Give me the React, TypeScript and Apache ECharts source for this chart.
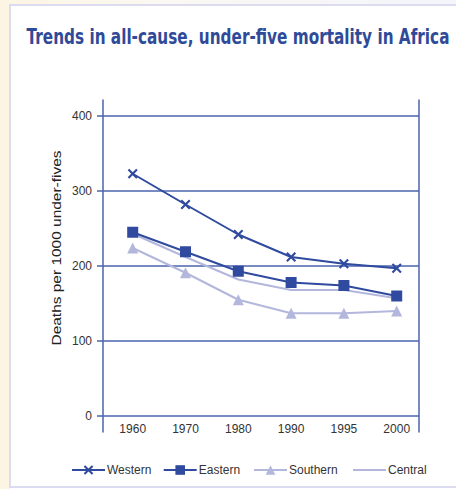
import React, { useEffect, useRef } from "react";
import * as echarts from "echarts";

const titleText = "Trends in all-cause, under-five mortality in Africa";
const yAxisName = "Deaths per 1000 under-fives";
const years = ["1960", "1970", "1980", "1990", "1995", "2000"];
const seriesNames = ["Western", "Eastern", "Southern", "Central"];
const western = [323, 282, 242, 212, 203, 197];
const eastern = [245, 219, 193, 178, 174, 160];
const southern = [224, 191, 155, 137, 137, 140];
const central = [243, 212, 182, 168, 168, 157];
const yMin = 0;
const yMax = 400;
const yInterval = 100;

const DARK = "#2f4a9e";
const LIGHT = "#b3b7dc";
const GRID = "#4a63ad";
const SMALL_FONT = '"Liberation Sans", Arial, sans-serif';

const X_SYMBOL =
  "path://M0,1.5L1.5,0L5,3.5L8.5,0L10,1.5L6.5,5L10,8.5L8.5,10L5,6.5L1.5,10L0,8.5L3.5,5Z";

const legendLefts = [71, 162.7, 253, 353];

function measure(text: string, font: string): number {
  const ctx = document.createElement("canvas").getContext("2d");
  if (!ctx) return text.length * 8;
  ctx.font = font;
  return ctx.measureText(text).width;
}

export default function App() {
  const ref = useRef<HTMLDivElement>(null);

  useEffect(() => {
    if (!ref.current) return;
    const chart = echarts.init(ref.current, null, { renderer: "svg" });

    const titleFont = `bold 22px "DejaVu Sans", sans-serif`;
    const titleScale = 423 / measure(titleText, titleFont);
    const nameFont = `12px "Liberation Sans", Arial, sans-serif`;
    const nameScale = 195 / measure(yAxisName, nameFont);

    const labelStyle = {
      color: "#333333",
      fontFamily: SMALL_FONT,
      fontSize: 12,
    };

    const option: any = {
      animation: false,
      backgroundColor: "#ffffff",
      graphic: [
        {
          type: "rect",
          z: -10,
          shape: { x: 0, y: 0, width: 10, height: 489 },
          style: { fill: "#fdf5e4" },
          silent: true,
        },
        {
          type: "rect",
          z: -10,
          shape: { x: 0, y: 0, width: 456, height: 5 },
          style: {
            fill: new echarts.graphic.LinearGradient(0, 0, 1, 0, [
              { offset: 0, color: "#fdf5e4" },
              { offset: 0.35, color: "#fbf8f2" },
              { offset: 1, color: "#f4f4fb" },
            ]),
          },
          silent: true,
        },
        {
          type: "rect",
          z: -9,
          shape: { x: 10, y: 5, width: 470, height: 482 },
          style: { fill: "#ffffff", stroke: "#dcdcf0", lineWidth: 2 },
          silent: true,
        },
        {
          type: "text",
          x: 26.5,
          y: 36,
          scaleX: titleScale,
          style: {
            text: titleText,
            font: titleFont,
            fill: "#2e4a98",
            align: "left",
            verticalAlign: "middle",
          },
        },
        {
          type: "text",
          x: 57,
          y: 248,
          rotation: Math.PI / 2,
          scaleX: nameScale,
          style: {
            text: yAxisName,
            font: nameFont,
            fill: "#222222",
            align: "center",
            verticalAlign: "middle",
          },
        },
      ],
      grid: [
        { left: 103, right: 37, top: 100, bottom: 57 },
        { left: 103, right: 37, top: 116, bottom: 73 },
        { left: 132.7, right: 59.3, top: 116, bottom: 73 },
      ],
      xAxis: [
        { gridIndex: 0, type: "value", min: 0, max: 1, show: false },
        { gridIndex: 1, type: "value", min: 0, max: 1, show: false },
        {
          gridIndex: 2,
          type: "category",
          data: years,
          boundaryGap: false,
          axisLine: { show: false },
          axisTick: { show: false },
          splitLine: { show: false },
          axisLabel: { margin: 7, ...labelStyle },
        },
      ],
      yAxis: [
        {
          gridIndex: 0,
          type: "value",
          min: -21.3,
          max: 421.3,
          axisLine: { show: true, lineStyle: { color: GRID, width: 1.5 } },
          axisTick: { show: false },
          axisLabel: { show: false },
          splitLine: { show: false },
        },
        {
          gridIndex: 0,
          type: "value",
          position: "right",
          min: -21.3,
          max: 421.3,
          axisLine: { show: true, lineStyle: { color: GRID, width: 1.5 } },
          axisTick: { show: false },
          axisLabel: { show: false },
          splitLine: { show: false },
        },
        {
          gridIndex: 1,
          type: "value",
          min: yMin,
          max: yMax,
          interval: yInterval,
          axisLine: { show: false },
          axisTick: {
            show: true,
            length: 6,
            lineStyle: { color: GRID, width: 1.5 },
          },
          axisLabel: { margin: 11, padding: [0, 0, 8, 0], ...labelStyle },
          splitLine: { show: true, lineStyle: { color: GRID, width: 1.5 } },
        },
        {
          gridIndex: 2,
          type: "value",
          min: yMin,
          max: yMax,
          show: false,
        },
      ],
      legend: seriesNames.map((name, i) => {
        const plain = name === "Central";
        return {
          left: legendLefts[i],
          top: 464,
          padding: 0,
          itemWidth: 33,
          itemHeight: plain ? 2 : 12,
          textStyle: { ...labelStyle, padding: [0, 0, 0, -3] },
          data: plain ? [{ name, icon: "rect" }] : [name],
        };
      }),
      series: [
        {
          name: "Central",
          type: "line",
          xAxisIndex: 2,
          yAxisIndex: 3,
          data: central,
          symbol: "none",
          z: 2,
          itemStyle: { color: LIGHT },
          lineStyle: { color: LIGHT, width: 2 },
        },
        {
          name: "Southern",
          type: "line",
          xAxisIndex: 2,
          yAxisIndex: 3,
          data: southern,
          symbol: "triangle",
          symbolSize: 11,
          z: 3,
          itemStyle: { color: LIGHT },
          lineStyle: { color: LIGHT, width: 2 },
        },
        {
          name: "Eastern",
          type: "line",
          xAxisIndex: 2,
          yAxisIndex: 3,
          data: eastern,
          symbol: "rect",
          symbolSize: 11,
          z: 4,
          itemStyle: { color: DARK },
          lineStyle: { color: DARK, width: 2 },
        },
        {
          name: "Western",
          type: "line",
          xAxisIndex: 2,
          yAxisIndex: 3,
          data: western,
          symbol: X_SYMBOL,
          symbolSize: 10,
          z: 5,
          itemStyle: { color: DARK },
          lineStyle: { color: DARK, width: 2 },
        },
      ],
    };

    chart.setOption(option);
    return () => chart.dispose();
  }, []);

  return (
    <div
      ref={ref}
      style={{ position: "fixed", left: 0, top: 0, width: 456, height: 489 }}
    />
  );
}
